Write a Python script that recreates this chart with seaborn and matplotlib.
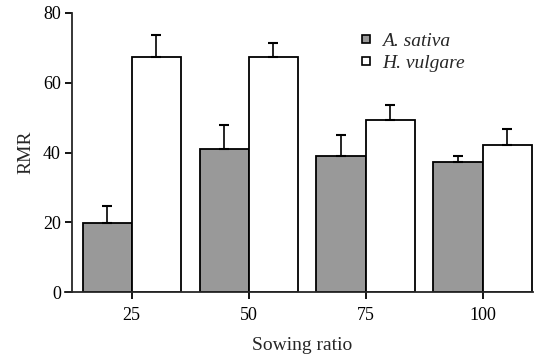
import pandas as pd
import seaborn as sns
import matplotlib.pyplot as plt

# data
ratios = ['25', '50', '75', '100']
sativa = [19.9, 41.0, 39.0, 37.4]
sativa_err = [4.8, 7.0, 6.1, 1.7]
vulgare = [67.3, 67.3, 49.3, 42.2]
vulgare_err = [6.5, 4.0, 4.4, 4.4]
species = ['A. sativa', 'H. vulgare']

df = pd.DataFrame({
    'ratio': ratios * 2,
    'rmr': sativa + vulgare,
    'species': [species[0]] * 4 + [species[1]] * 4,
})

sns.set_style('ticks')
plt.rcParams['font.family'] = ['Liberation Serif', 'DejaVu Serif']

fig = plt.figure(figsize=(5.39, 3.57), dpi=100)
ax = fig.add_axes([0.1336, 0.182, 0.855, 0.7816])

sns.barplot(data=df, x='ratio', y='rmr', hue='species', order=ratios,
            palette=['#999999', 'white'], edgecolor='black', linewidth=1.3,
            width=0.84, errorbar=None, ax=ax)

# one-sided error bars on top of each bar
for cont, errs in zip(ax.containers, [sativa_err, vulgare_err]):
    for bar, e in zip(cont, errs):
        x = bar.get_x() + bar.get_width() / 2
        h = bar.get_height()
        ax.errorbar(x, h, yerr=[[0], [e]], fmt='none', ecolor='black',
                    elinewidth=1.2, capsize=3.3, capthick=1.5, zorder=1)

ax.set_ylim(0, 80)
ax.set_yticks([0, 20, 40, 60, 80])
ax.set_xlim(-0.51, 3.43)
sns.despine(ax=ax)
for s in ['left', 'bottom']:
    ax.spines[s].set_linewidth(1.3)
ax.spines['bottom'].set_bounds(-0.57, 3.43)
ax.tick_params(axis='both', labelsize=13, width=1.3, length=5, color='black',
               labelcolor='black')
ax.tick_params(axis='x', pad=6)
ax.tick_params(axis='y', pad=3)
ax.set_xlabel('Sowing ratio', fontsize=14, labelpad=9)
ax.set_ylabel('RMR', fontsize=14, labelpad=6)

leg = ax.legend(loc='upper left', bbox_to_anchor=(0.605, 0.97), frameon=False,
                handlelength=0.4, handleheight=0.3, handletextpad=0.6,
                labelspacing=0.25, borderaxespad=0.2,
                prop={'style': 'italic', 'size': 14})
for h in leg.legend_handles:
    h.set_linewidth(1.2)

fig.savefig('out.png', dpi=100)
